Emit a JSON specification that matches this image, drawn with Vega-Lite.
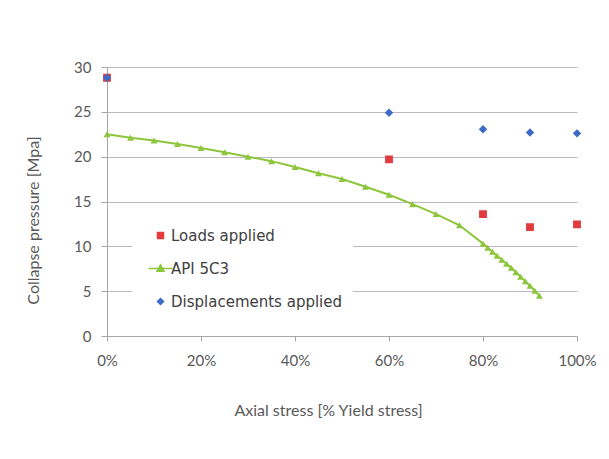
{
  "$schema": "https://vega.github.io/schema/vega-lite/v6.json",
  "autosize": "none",
  "width": 470,
  "height": 269,
  "padding": {"left": 107, "top": 67, "right": 32, "bottom": 123},
  "background": "white",
  "config": {
    "view": {"stroke": null},
    "axis": {
      "labelFont": "Lato",
      "labelFontSize": 15,
      "labelColor": "#595959",
      "titleFont": "Lato",
      "titleFontSize": 16,
      "titleFontWeight": "normal",
      "titleColor": "#595959",
      "domainColor": "#a6a6a6",
      "tickColor": "#a6a6a6",
      "gridColor": "#bdb6c6",
      "gridOpacity": 1
    }
  },
  "data": {
    "values": [
      {"series": "API 5C3", "x": 0, "y": 22.5},
      {"series": "API 5C3", "x": 5, "y": 22.1},
      {"series": "API 5C3", "x": 10, "y": 21.8},
      {"series": "API 5C3", "x": 15, "y": 21.4},
      {"series": "API 5C3", "x": 20, "y": 20.97},
      {"series": "API 5C3", "x": 25, "y": 20.5},
      {"series": "API 5C3", "x": 30, "y": 20.0},
      {"series": "API 5C3", "x": 35, "y": 19.5},
      {"series": "API 5C3", "x": 40, "y": 18.85},
      {"series": "API 5C3", "x": 45, "y": 18.15},
      {"series": "API 5C3", "x": 50, "y": 17.5},
      {"series": "API 5C3", "x": 55, "y": 16.65},
      {"series": "API 5C3", "x": 60, "y": 15.75},
      {"series": "API 5C3", "x": 65, "y": 14.7},
      {"series": "API 5C3", "x": 70, "y": 13.6},
      {"series": "API 5C3", "x": 75, "y": 12.35},
      {"series": "API 5C3", "x": 80, "y": 10.3},
      {"series": "API 5C3", "x": 81, "y": 9.85},
      {"series": "API 5C3", "x": 82, "y": 9.4},
      {"series": "API 5C3", "x": 83, "y": 8.95},
      {"series": "API 5C3", "x": 84, "y": 8.5},
      {"series": "API 5C3", "x": 85, "y": 8.05},
      {"series": "API 5C3", "x": 86, "y": 7.6},
      {"series": "API 5C3", "x": 87, "y": 7.1},
      {"series": "API 5C3", "x": 88, "y": 6.6},
      {"series": "API 5C3", "x": 89, "y": 6.1},
      {"series": "API 5C3", "x": 90, "y": 5.6},
      {"series": "API 5C3", "x": 91, "y": 5.05},
      {"series": "API 5C3", "x": 92, "y": 4.5},
      {"series": "Loads applied", "x": 0, "y": 28.8},
      {"series": "Loads applied", "x": 60, "y": 19.7},
      {"series": "Loads applied", "x": 80, "y": 13.6},
      {"series": "Loads applied", "x": 90, "y": 12.15},
      {"series": "Loads applied", "x": 100, "y": 12.45},
      {"series": "Displacements applied", "x": 0, "y": 28.8},
      {"series": "Displacements applied", "x": 60, "y": 24.9},
      {"series": "Displacements applied", "x": 80, "y": 23.05},
      {"series": "Displacements applied", "x": 90, "y": 22.7},
      {"series": "Displacements applied", "x": 100, "y": 22.6}
    ]
  },
  "encoding": {
    "x": {
      "field": "x",
      "type": "quantitative",
      "scale": {"domain": [0, 100], "nice": false},
      "axis": {
        "title": "Axial stress [% Yield stress]",
        "values": [0, 20, 40, 60, 80, 100],
        "labelExpr": "datum.value + '%'",
        "labelFlush": false,
        "grid": false,
        "tickSize": 5,
        "labelPadding": 12,
        "titlePadding": 34,
        "titleX": 221
      }
    },
    "y": {
      "field": "y",
      "type": "quantitative",
      "scale": {"domain": [0, 30], "nice": false},
      "axis": {
        "title": "Collapse pressure [Mpa]",
        "values": [0, 5, 10, 15, 20, 25, 30],
        "grid": true,
        "tickSize": 6,
        "labelPadding": 10,
        "labelFlush": false,
        "titleX": -74,
        "titleY": 153,
        "titleBaseline": "middle",
        "titleAngle": -90
      }
    }
  },
  "layer": [
    {
      "transform": [{"filter": "datum.series === 'API 5C3'"}],
      "mark": {"type": "line", "color": "#8dc63c", "strokeWidth": 2}
    },
    {
      "transform": [{"filter": "datum.series === 'API 5C3'"}],
      "mark": {"type": "point", "shape": "triangle-up", "filled": true, "opacity": 1, "color": "#8dc63c", "size": 48, "strokeWidth": 0}
    },
    {
      "transform": [{"filter": "datum.series !== 'API 5C3'"}],
      "mark": {"type": "point", "filled": true, "opacity": 1, "strokeWidth": 1.5, "size": 40},
      "encoding": {
        "color": {
          "field": "series",
          "type": "nominal",
          "scale": {
            "domain": ["Loads applied", "API 5C3", "Displacements applied"],
            "range": ["#e23b3f", "#8dc63c", "#3c6cc4"]
          },
          "legend": {
            "title": null,
            "orient": "none",
            "legendX": 25,
            "legendY": 151,
            "fillColor": "white",
            "padding": 10,
            "rowPadding": 17,
            "labelFont": "DejaVu Sans",
            "labelFontSize": 15,
            "labelColor": "#404040",
            "labelLimit": 300,
            "symbolSize": 36,
            "symbolOffset": 11,
            "labelOffset": 3
          }
        },
        "stroke": {
          "field": "series",
          "type": "nominal",
          "scale": {
            "domain": ["Loads applied", "API 5C3", "Displacements applied"],
            "range": ["#e23b3f", "#8dc63c", "#3c6cc4"]
          }
        },
        "shape": {
          "field": "series",
          "type": "nominal",
          "scale": {
            "domain": ["Loads applied", "API 5C3", "Displacements applied"],
            "range": ["square", "M-4,0H4M0,-1.25L1.15,0.9H-1.15Z", "diamond"]
          }
        }
      }
    }
  ]
}
